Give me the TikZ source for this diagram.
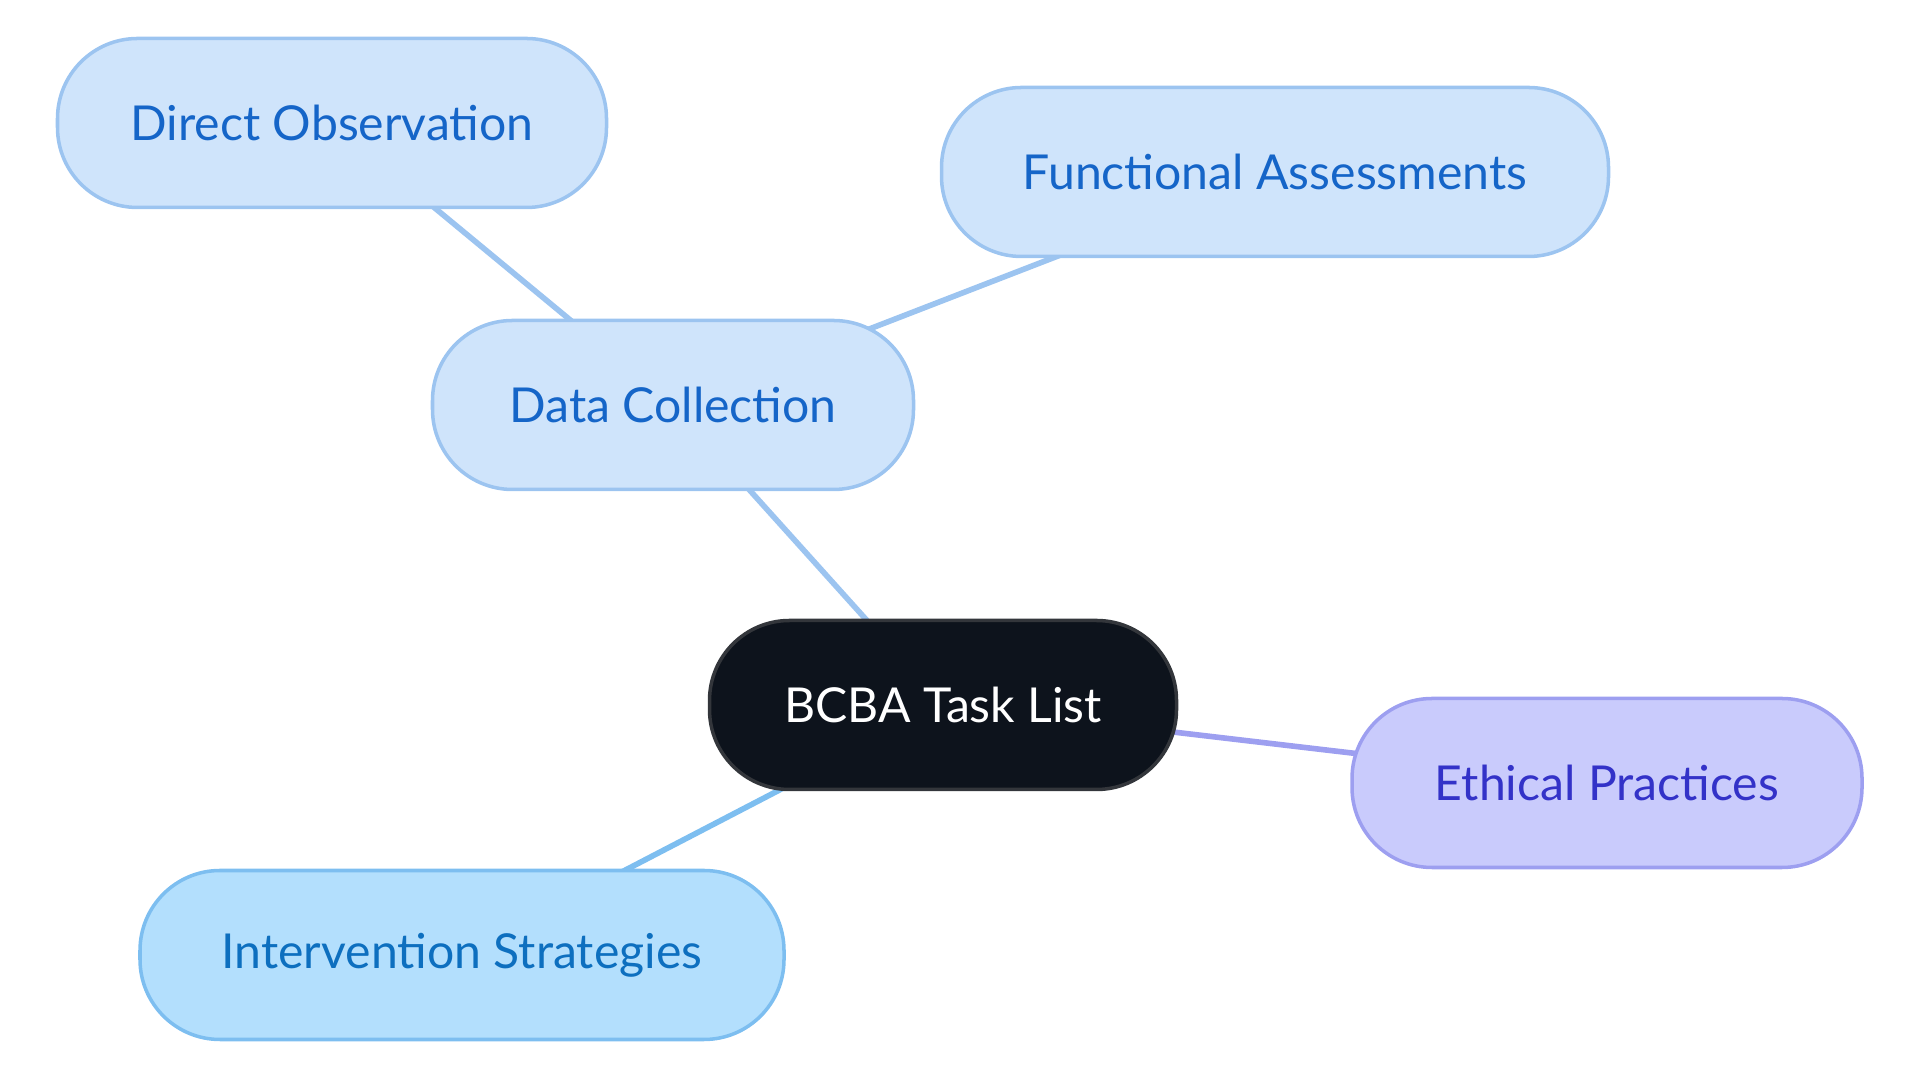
\documentclass[tikz,border=0pt]{standalone}
\usepackage{fontspec}
\setmainfont{Lato}
\usetikzlibrary{positioning,backgrounds}
\definecolor{dcfill}{HTML}{CFE4FB}
\definecolor{dcdraw}{HTML}{9CC4F0}
\definecolor{dctext}{HTML}{1565C8}
\definecolor{isfill}{HTML}{B3DFFD}
\definecolor{isdraw}{HTML}{7DBEF0}
\definecolor{istext}{HTML}{0D6FBF}
\definecolor{epfill}{HTML}{C9CBFC}
\definecolor{epdraw}{HTML}{9D9FF0}
\definecolor{eptext}{HTML}{3332C8}
\definecolor{rootfill}{HTML}{0D131C}
\definecolor{rootdraw}{HTML}{33363B}

\begin{document}
\begin{tikzpicture}[
  box/.style={draw, rectangle, minimum height=1.69cm, align=center, rounded corners=0.8cm,
    line width=1pt, font=\fontsize{13.7}{16}\selectfont},
  dcbox/.style={box, fill=dcfill, draw=dcdraw, text=dctext},
  link/.style={line width=1.6pt}
]
  \useasboundingbox (0,0) rectangle (19.2,10.83);

  % Centre
  \node[box, fill=rootfill, draw=rootdraw, text=white, minimum width=4.67cm] (root) at (9.43,3.78) {BCBA Task List};

  % Data collection branch
  \node[dcbox, minimum width=4.81cm] (data) at (6.73,6.78) {Data Collection};
  \node[dcbox, minimum width=5.49cm] (obs) at (3.32,9.60) {Direct Observation};
  \node[dcbox, minimum width=6.67cm] (func) at (12.75,9.11) {Functional Assessments};

  % Other branches
  \node[box, fill=epfill, draw=epdraw, text=eptext, minimum width=5.10cm] (ethics) at (16.07,3.00) {Ethical Practices};
  \node[box, fill=isfill, draw=isdraw, text=istext, minimum width=6.44cm] (interv) at (4.62,1.28) {Intervention Strategies};

  \begin{scope}[on background layer]
    \draw[link, dcdraw] (root.center) -- (data.center);
    \draw[link, dcdraw] (data.center) -- (obs.center);
    \draw[link, dcdraw] (data.center) -- (func.center);
    \draw[link, epdraw] (root.center) -- (ethics.center);
    \draw[link, isdraw] (root.center) -- (interv.center);
  \end{scope}
\end{tikzpicture}
\end{document}
